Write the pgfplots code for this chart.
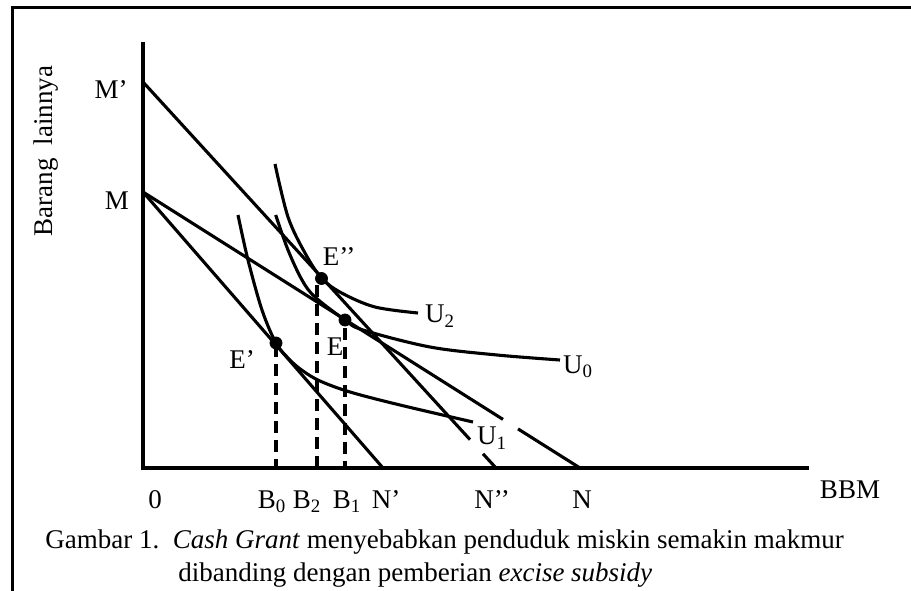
\documentclass[border=0pt]{standalone}
\usepackage{pgfplots}
\pgfplotsset{compat=1.18}
\usepackage{fontspec}
\setmainfont{Liberation Serif}
\pgfplotsset{
  cur/.style={black, line width=1.55pt, no marks},
  dsh/.style={black, line width=1.55pt, no marks, dash pattern=on 6pt off 3.5pt},
}
\newcommand{\lf}{\fontsize{13.5}{16}\selectfont}
\begin{document}
\begin{tikzpicture}[x=0.5pt,y=0.5pt]
\useasboundingbox (0,0) rectangle (911,590);
\clip (0,0) rectangle (911,590);
\begin{axis}[
  at={(0,0)}, anchor=south west,
  scale only axis, width=455.5pt, height=295pt,
  xmin=0, xmax=911, ymin=0, ymax=590,
  hide axis, clip=false,
]
% frame
\addplot[black, line width=1.5pt, no marks] coordinates {(12,-5) (12,582) (920,582)};
% axes
\addplot[black, line width=1.6pt, no marks] coordinates {(143,548) (143,122) (809,122)};
% budget lines
\addplot[cur] coordinates {(143,508) (470,150.4)};
\addplot[cur] coordinates {(483,136.2) (496,122)};
\addplot[cur] coordinates {(143,398) (503,170.6)};
\addplot[cur] coordinates {(518,161.1) (580,122)};
\addplot[cur] coordinates {(143,398) (383,122)};
% indifference curves
\addplot[cur, smooth, tension=0.55] coordinates {(275,426) (288,373) (305,337) (321.7,311.7) (341.7,297) (375,283) (418,277)};
\addplot[cur, smooth, tension=0.55] coordinates {(275.7,375) (288,340) (302,310) (315,293) (345,270) (363,260) (430,243) (497,235) (560,230)};
\addplot[cur, smooth, tension=0.55] coordinates {(238,375) (248,330) (262,280) (276,247) (290,230) (303,219) (320,209) (350,198) (400,185) (473,168)};
% dashed drops
\addplot[dsh] coordinates {(276,245) (276,122)};
\addplot[dsh] coordinates {(317,305) (317,122)};
\addplot[dsh] coordinates {(345,262) (345,122)};
% equilibrium points
\addplot[only marks, mark=*, mark size=3pt, black] coordinates {(321.5,311.5) (345,270) (276,247)};
% labels
\node[font=\lf] at (111,500) {M’};
\node[font=\lf] at (117,389) {M};
\node[font=\lf] at (339,333) {E’’};
\node[font=\lf] at (335,243) {E};
\node[font=\lf] at (242,230) {E’};
\node[font=\lf] at (440,274) {U\textsubscript{2}};
\node[font=\lf] at (578,223) {U\textsubscript{0}};
\node[font=\lf] at (492,152) {U\textsubscript{1}};
\node[font=\lf, anchor=base] at (155,82) {0};
\node[font=\lf, anchor=base] at (272,82) {B\textsubscript{0}};
\node[font=\lf, anchor=base] at (307,82) {B\textsubscript{2}};
\node[font=\lf, anchor=base] at (347,82) {B\textsubscript{1}};
\node[font=\lf, anchor=base] at (386,82) {N’};
\node[font=\lf, anchor=base] at (492,82) {N’’};
\node[font=\lf, anchor=base] at (582,82) {N};
\node[font=\lf, anchor=base] at (850,92) {BBM};
\node[font=\lf, rotate=90] at (46,439) {Barang\ \ lainnya};
\node[font=\lf, anchor=base west, inner sep=0pt] at (45,42) {Gambar 1.\ \ \textit{Cash Grant} menyebabkan penduduk miskin semakin makmur};
\node[font=\lf, anchor=base west, inner sep=0pt] at (178,9) {dibanding dengan pemberian \textit{excise subsidy}};
\end{axis}
\end{tikzpicture}
\end{document}
